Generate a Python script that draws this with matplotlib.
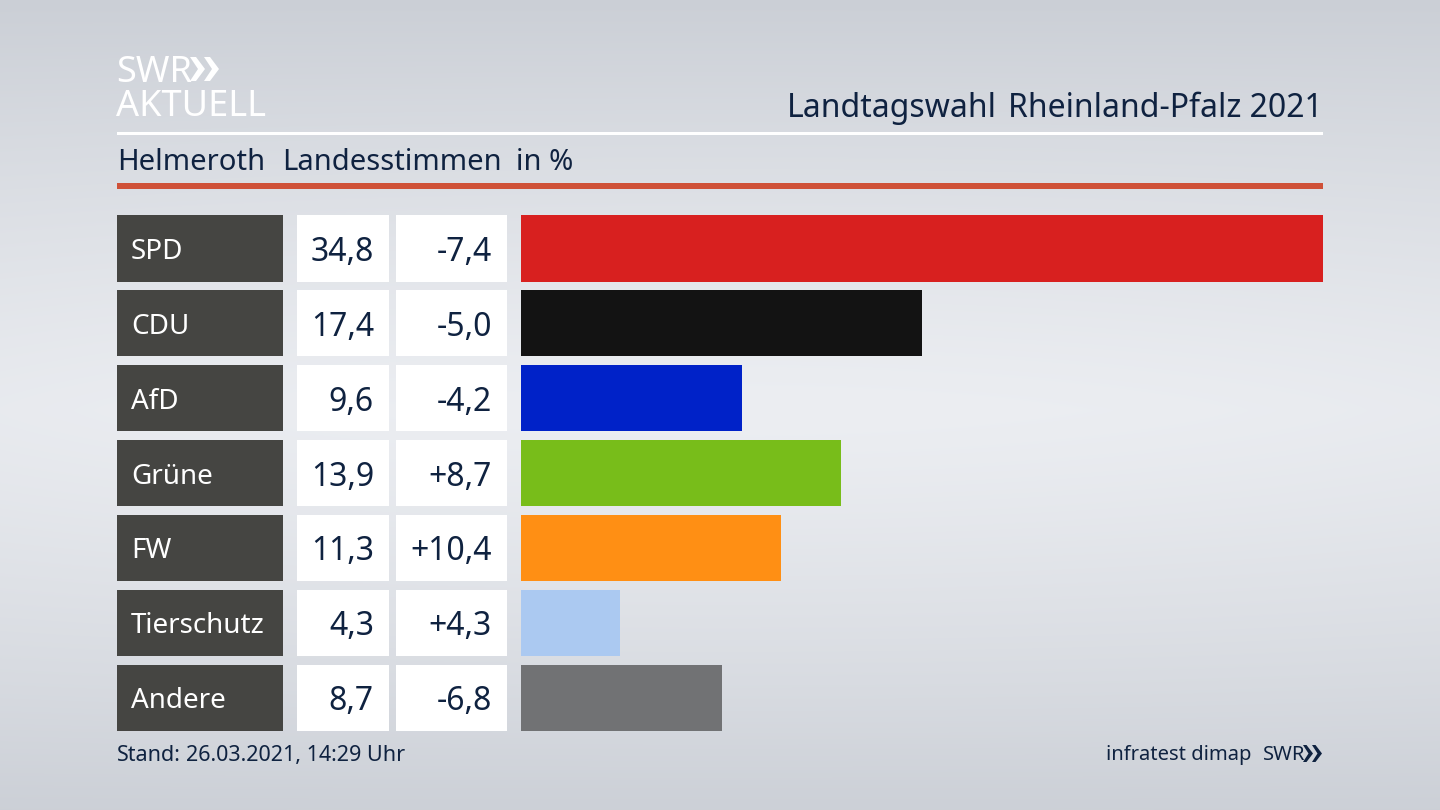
import numpy as np
import matplotlib
matplotlib.use('Agg')
import matplotlib.pyplot as plt
from matplotlib.patches import Polygon

# data
parties = ['SPD', 'CDU', 'AfD', 'Grüne', 'FW', 'Tierschutz', 'Andere']
shares = [34.8, 17.4, 9.6, 13.9, 11.3, 4.3, 8.7]
share_labels = ['34,8', '17,4', '9,6', '13,9', '11,3', '4,3', '8,7']
diff_labels = ['-7,4', '-5,0', '-4,2', '+8,7', '+10,4', '+4,3', '-6,8']
colors = ['#d8201f', '#131313', '#0022c8', '#78bd1a', '#ff8f14', '#abc9f1', '#717274']

NAVY = '#0f2240'
plt.rcParams['font.family'] = ['Noto Sans', 'DejaVu Sans']

fig = plt.figure(figsize=(14.4, 8.1), dpi=100)

# background gradient, full figure in pixel coords
bg = fig.add_axes([0, 0, 1, 1])
yy, xx = np.mgrid[0:810, 0:1440]
t = np.abs(yy - 410) / 410
s = np.abs(xx - 720) / 720
light = np.array([236, 238, 242])
dark = np.array([203, 207, 214])
mix = np.clip(t ** 1.25 + 0.12 * s ** 2 * (1 - t), 0, 1)[..., None]
img = (light + (dark - light) * mix) / 255
bg.imshow(img, extent=(0, 1440, 810, 0), aspect='auto', zorder=0)
bg.set_xlim(0, 1440)
bg.set_ylim(810, 0)
bg.axis('off')

# rules
bg.fill_between([117, 1323], 132, 135, color='white', lw=0, zorder=1)
bg.fill_between([117, 1323], 183, 189, color='#cf5138', lw=0, zorder=1)

# logo top left
bg.text(116, 82, 'SWR', color='white', fontsize=26, fontweight='bold', ha='left', va='baseline', zorder=2)
bg.text(116, 116, 'AKTUELL', color='white', fontsize=26, fontweight='bold', ha='left', va='baseline', zorder=2)
for x0 in (190, 204):
    bg.add_patch(Polygon([(x0, 57), (x0 + 6, 57), (x0 + 15, 69), (x0 + 6, 81), (x0, 81), (x0 + 8, 69)],
                         color='white', lw=0, zorder=2))

# header text
title = bg.text(1323, 117, 'Rheinland-Pfalz 2021', color=NAVY, fontsize=23, ha='right', va='baseline', zorder=2)
bg.text(997, 117, 'Landtagswahl', color=NAVY, fontsize=23, fontweight='bold', ha='right', va='baseline', zorder=2)
bg.text(117, 170, 'Helmeroth', color=NAVY, fontsize=21, ha='left', va='baseline', zorder=2)
bg.text(282, 170, 'Landesstimmen', color=NAVY, fontsize=21, ha='left', va='baseline', zorder=2)
bg.text(516, 170, 'in %', color=NAVY, fontsize=21, ha='left', va='baseline', zorder=2)

# table and bars share the same rows
top, bottom = 215, 731
pitch = (bottom - top - 66.5) / 6
rows = np.arange(len(parties))
h = 66.5 / pitch
ylim = (len(parties) - 1 + h / 2, -h / 2)


def row_axes(x0, x1):
    a = fig.add_axes([x0 / 1440, 1 - bottom / 810, (x1 - x0) / 1440, (bottom - top) / 810])
    a.set_ylim(*ylim)
    a.axis('off')
    return a


ax_name = row_axes(117, 283)
ax_name.set_xlim(0, 1)
ax_name.barh(rows, 1, height=h, color='#454542')
for i, name in zip(rows, parties):
    ax_name.text(14 / 166, i, name, color='white', fontsize=20, ha='left', va='center_baseline')

ax_share = row_axes(297, 389)
ax_share.set_xlim(0, 1)
ax_share.barh(rows, 1, height=h, color='white')
for i, label in zip(rows, share_labels):
    ax_share.text(77 / 92, i, label, color=NAVY, fontsize=23, ha='right', va='center_baseline')

ax_diff = row_axes(396, 507)
ax_diff.set_xlim(0, 1)
ax_diff.barh(rows, 1, height=h, color='white')
for i, label in zip(rows, diff_labels):
    ax_diff.text(96 / 111, i, label, color=NAVY, fontsize=23, ha='right', va='center_baseline')

ax_bar = row_axes(521, 1323)
ax_bar.set_xlim(0, max(shares))
ax_bar.barh(rows, shares, height=h, color=colors)

# footer
bg.text(117, 761, 'Stand:', color=NAVY, fontsize=15.5, fontweight='bold', ha='left', va='baseline', zorder=2)
bg.text(186, 761, '26.03.2021, 14:29 Uhr', color=NAVY, fontsize=15.5, ha='left', va='baseline', zorder=2)
bg.text(1252, 760, 'infratest dimap', color=NAVY, fontsize=14.5, ha='right', va='baseline', zorder=2)
bg.text(1263, 760, 'SWR', color=NAVY, fontsize=14.5, fontweight='bold', ha='left', va='baseline', zorder=2)
for x0 in (1303, 1312):
    bg.add_patch(Polygon([(x0, 745), (x0 + 3.5, 745), (x0 + 10, 753.5), (x0 + 3.5, 762), (x0, 762), (x0 + 5.5, 753.5)],
                         color=NAVY, lw=0, zorder=2))

fig.savefig('out.png', dpi=100)
